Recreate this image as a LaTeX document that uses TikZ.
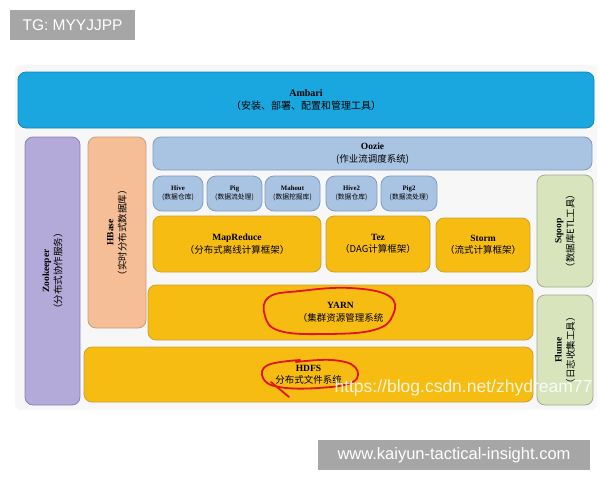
\documentclass[tikz,border=0pt]{standalone}
\usepackage{fontspec}
\setmainfont{Liberation Serif}
\newfontfamily\zh{Noto Sans CJK SC}
\newfontfamily\tagfont{Liberation Sans}
\newcommand{\boxtext}[2]{\textbf{#1}\\{\zh #2}}
\definecolor{ambaribg}{HTML}{1AA7DF}
\definecolor{ambarifr}{HTML}{1187B8}
\definecolor{ooziebg}{HTML}{A9C3E3}
\definecolor{ooziefr}{HTML}{7F9CC0}
\definecolor{zkbg}{HTML}{B3AAD9}
\definecolor{zkfr}{HTML}{8C82B2}
\definecolor{hbasebg}{HTML}{F5BE96}
\definecolor{hbasefr}{HTML}{C99C7C}
\definecolor{corebg}{HTML}{F7BC12}
\definecolor{corefr}{HTML}{C9A032}
\definecolor{toolbg}{HTML}{D8E4BC}
\definecolor{toolfr}{HTML}{A2AA92}
\definecolor{taggray}{HTML}{A6A6A6}
\definecolor{pen}{HTML}{E0141E}
\begin{document}
\begin{tikzpicture}[x=1pt, y=-1pt,
  box/.style={draw, line width=0.8pt, rounded corners=8pt, align=center,
    inner sep=1pt, font=\fontsize{9.5}{12.5}\selectfont},
  small/.style={box, rounded corners=9pt, fill=ooziebg, draw=ooziefr,
    minimum width=#1, minimum height=35, font=\fontsize{6.8}{8.8}\selectfont},
  core/.style={box, fill=corebg, draw=corefr},
  tool/.style={box, fill=toolbg, draw=toolfr, rotate=90},
  tag/.style={fill=taggray, text=white, font=\tagfont\fontsize{15.5}{17}\selectfont},
  redpen/.style={draw=pen, line width=1.8pt, line cap=round}]
  \useasboundingbox (0,0) rectangle (600,480);
  \fill[gray!6, rounded corners=6pt] (15,65) rectangle (597,410);
  % tags
  \node[tag, minimum width=125, minimum height=30] (tg) at (72.5,25) {TG: MYYJJPP};
  \node[tag, minimum width=272, minimum height=30, font=\tagfont\fontsize{16.5}{18}\selectfont]
    (site) at (454,455) {www.kaiyun-tactical-insight.com};
  % top bar
  \node[box, fill=ambaribg, draw=ambarifr, minimum width=576, minimum height=56,
    font=\fontsize{10}{13}\selectfont] (ambari) at (306,100)
    {\boxtext{Ambari}{（安装、部署、配置和管理工具）}};
  % left columns
  \node[box, fill=zkbg, draw=zkfr, rotate=90, minimum width=268, minimum height=55]
    (zookeeper) at (52.5,271) {\boxtext{Zookeeper}{（分布式协作服务）}};
  \node[box, fill=hbasebg, draw=hbasefr, rotate=90, minimum width=191, minimum height=58]
    (hbase) at (117,232.5) {\boxtext{HBase}{（实时分布式数据库）}};
  % workflow and tools
  \node[box, fill=ooziebg, draw=ooziefr, minimum width=439, minimum height=33]
    (oozie) at (372.5,153.5) {\boxtext{Oozie}{(作业流调度系统)}};
  \node[small=50] (hive) at (178,193.5) {\boxtext{Hive}{(数据仓库)}};
  \node[small=55] (pig) at (234.5,193.5) {\boxtext{Pig}{(数据流处理)}};
  \node[small=55] (mahout) at (292.5,193.5) {\boxtext{Mahout}{(数据挖掘库)}};
  \node[small=51] (hive2) at (351.5,193.5) {\boxtext{Hive2}{(数据仓库)}};
  \node[small=56] (pig2) at (409,193.5) {\boxtext{Pig2}{(数据流处理)}};
  % computing frameworks
  \node[core, minimum width=168, minimum height=56] (mapreduce) at (237,244)
    {\boxtext{MapReduce}{（分布式离线计算框架）}};
  \node[core, minimum width=104, minimum height=56] (tez) at (378,244)
    {\boxtext{Tez}{（DAG计算框架）}};
  \node[core, minimum width=94, minimum height=54] (storm) at (483,245)
    {\boxtext{Storm}{（流式计算框架）}};
  \node[core, minimum width=385, minimum height=55] (yarn) at (340.5,312.5)
    {\boxtext{YARN}{（集群资源管理系统}};
  \node[core, minimum width=449, minimum height=55] (hdfs) at (308.5,374.5)
    {\boxtext{HDFS}{分布式文件系统}};
  % right columns
  \node[tool, minimum width=112, minimum height=56] (sqoop) at (565,231)
    {\boxtext{Sqoop}{（数据库ETL工具）}};
  \node[tool, minimum width=110, minimum height=56] (flume) at (565,350)
    {\boxtext{Flume}{（日志收集工具）}};
  % red marks
  \draw[redpen] plot[smooth cycle, tension=0.7] coordinates
    {(300,291) (350,288) (389,296) (393,315) (374,330) (325,334) (280,331) (265,316) (269,297)};
  \draw[redpen] plot[smooth, tension=0.7] coordinates
    {(296,362) (332,360) (355,367) (353,382) (318,388) (279,387) (263,378) (268,365) (300,360)};
  \draw[redpen] (271,382) -- (289,397);
  \node[text=white, opacity=0.85, font=\tagfont\fontsize{17.5}{20}\selectfont, anchor=west]
    (csdn) at (331,388) {https://blog.csdn.net/zhydream77};
\end{tikzpicture}
\end{document}
